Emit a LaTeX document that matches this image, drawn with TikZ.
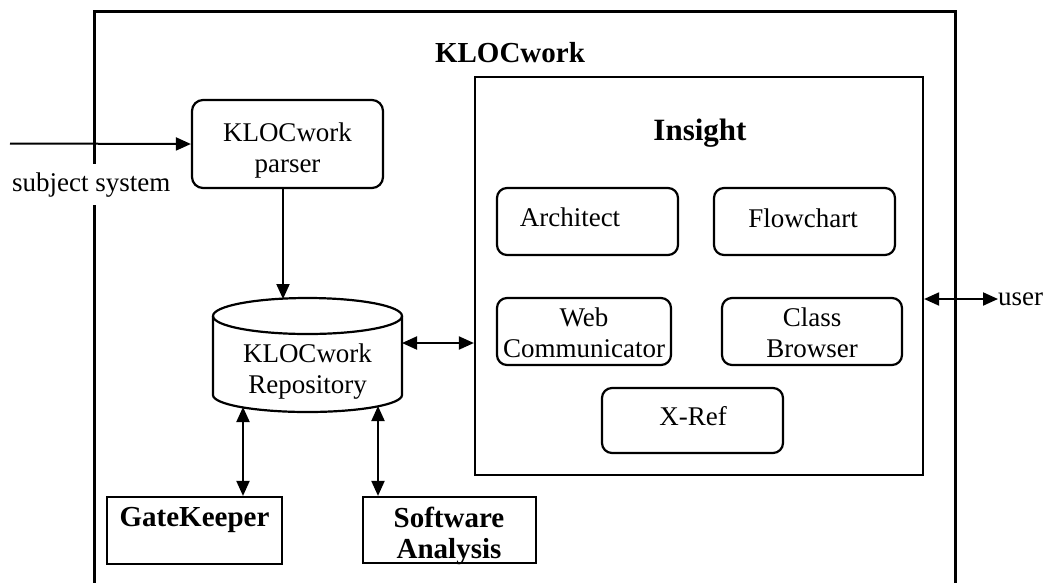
\documentclass[tikz,border=0pt]{standalone}
\usepackage{fontspec}
\setmainfont{Liberation Serif}
\usetikzlibrary{arrows.meta}
\begin{document}
\begin{tikzpicture}[x=1pt,y=-1pt,
  rbox/.style={draw, line width=2.2pt, rounded corners=11pt, inner sep=0pt},
  sqbox/.style={draw, line width=2.2pt, inner sep=0pt},
  txt/.style={font=\fontsize{27}{31}\selectfont, align=center, inner sep=0pt},
  btxt/.style={font=\fontsize{29}{31}\selectfont\bfseries, align=center, inner sep=0pt},
  tip/.tip={Triangle[length=15pt,width=13pt]},
  conn/.style={line width=2pt, -tip},
  dconn/.style={line width=2pt, tip-tip},
]
\useasboundingbox (0,0) rectangle (1043,582);
\fill[white] (0,0) rectangle (1043,582);

% outer KLOCwork frame (cut off at the bottom)
\node[sqbox, line width=2.5pt, minimum width=861pt, minimum height=620pt, anchor=north west] (outer) at (93,10) {};
\node[btxt, anchor=base] (title) at (510,62) {KLOCwork};

% parser
\node[rbox, minimum width=191pt, minimum height=88pt] (parser) at (287.5,144) {};
\node[txt] (parsertxt) at (287.5,151) {KLOCwork\\parser};

% repository cylinder
\node[minimum width=189pt, minimum height=114pt, inner sep=0pt] (repo) at (307.5,355) {};
\draw[line width=2.2pt] (307.5,316) ellipse[x radius=94.5, y radius=18];
\draw[line width=2.2pt] (213,316) -- (213,395) arc[start angle=180, end angle=0, x radius=94.5, y radius=17] -- (402,316);
\node[txt] (repotxt) at (307.5,372) {KLOCwork\\Repository};

% Insight
\node[sqbox, minimum width=448pt, minimum height=398pt] (insight) at (699,276) {};
\node[font=\fontsize{31}{33}\selectfont\bfseries, inner sep=0pt, anchor=base] (insighttitle) at (700,140) {Insight};

\node[rbox, rounded corners=10pt, minimum width=181pt, minimum height=67pt] (arch) at (587.5,221.5) {};
\node[txt] (archtxt) at (570,217) {Architect};
\node[rbox, rounded corners=10pt, minimum width=181pt, minimum height=67pt] (flow) at (804.5,221.5) {};
\node[txt] (flowtxt) at (803,218) {Flowchart};
\node[rbox, rounded corners=10pt, minimum width=174pt, minimum height=67pt] (web) at (584,331.5) {};
\node[txt] (webtxt) at (584,333) {Web\\Communicator};
\node[rbox, rounded corners=10pt, minimum width=180pt, minimum height=67pt] (class) at (812,331.5) {};
\node[txt] (classtxt) at (812,333) {Class\\Browser};
\node[rbox, rounded corners=10pt, minimum width=181pt, minimum height=65pt] (xref) at (692.5,420.5) {};
\node[txt] (xreftxt) at (693,416) {X-Ref};

% bottom boxes
\node[sqbox, minimum width=175pt, minimum height=67pt] (gate) at (194.5,530.5) {};
\node[btxt] (gatetxt) at (194.5,520) {GateKeeper};
\node[sqbox, minimum width=173pt, minimum height=66pt] (soft) at (449.5,530) {};
\node[btxt] (softtxt) at (449,536) {Software\\Analysis};

% external labels
\node[txt, anchor=base west, fill=white, inner xsep=0pt, inner ysep=8pt] (subj) at (12,191) {subject system};
\node[txt, anchor=west] (user) at (998,299) {user};

% connectors
\coordinate (in) at (10,143.5);
\draw[conn] (in) -- (parser.west);
\coordinate (rtop) at (283,299);
\draw[conn] (parser.south -| rtop) -- (rtop);
\coordinate (r1) at (402,343);
\draw[dconn] (r1) -- (r1 -| insight.west);
\draw[dconn] (user.west) -- (user.west -| insight.east);
\coordinate (g1) at (243,407);
\draw[dconn] (g1) -- (g1 |- gate.north);
\coordinate (s1) at (378,406);
\draw[dconn] (s1) -- (s1 |- soft.north);
\end{tikzpicture}
\end{document}
